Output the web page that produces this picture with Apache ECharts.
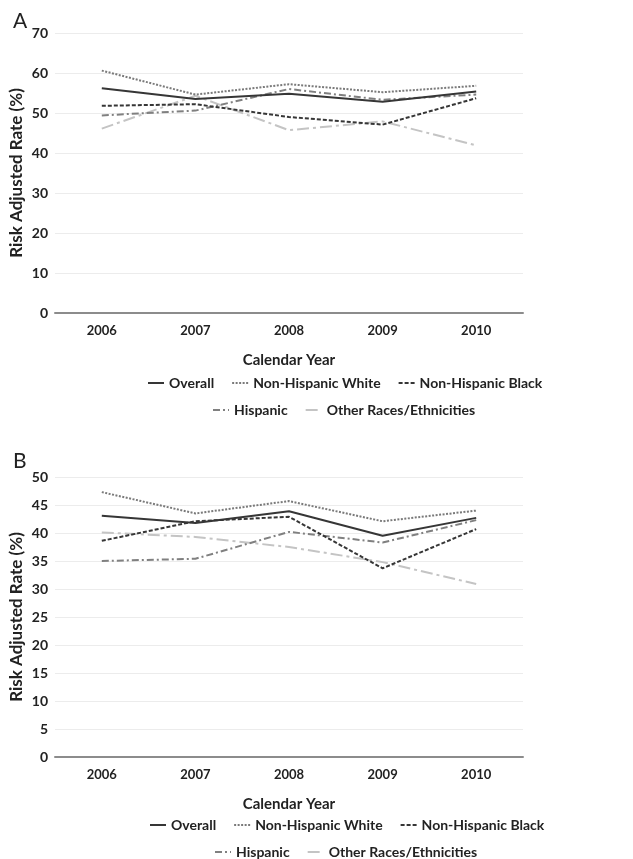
<!DOCTYPE html>
<html>
<head>
<meta charset="utf-8">
<script src="https://cdn.jsdelivr.net/npm/echarts@6/dist/echarts.min.js"></script>
<style>
  html, body { margin: 0; padding: 0; background: #fff; }
  #chart { width: 633px; height: 859px; }
</style>
</head>
<body>
<div id="chart"></div>
<script>
// years on the x axis
var years = ['2006', '2007', '2008', '2009', '2010'];
var seriesNames = ['Overall', 'Non-Hispanic White', 'Non-Hispanic Black', 'Hispanic', 'Other Races/Ethnicities'];

// panel A values (%)
var overallA = [56.2, 53.5, 54.8, 52.8, 55.4];
var whiteA = [60.6, 54.6, 57.2, 55.2, 56.8];
var blackA = [51.8, 52.2, 49.0, 47.1, 53.7];
var hispanicA = [49.4, 50.6, 56.0, 53.3, 54.6];
var otherA = [46.1, 54.3, 45.7, 47.9, 41.9];

// panel B values (%)
var overallB = [43.1, 41.8, 43.9, 39.5, 42.7];
var whiteB = [47.3, 43.5, 45.7, 42.1, 44.0];
var blackB = [38.6, 42.1, 42.9, 33.7, 40.7];
var hispanicB = [35.0, 35.4, 40.2, 38.3, 42.3];
var otherB = [40.1, 39.3, 37.5, 34.8, 30.9];

var FONT = 'Lato';

// line look for each group, same order as seriesNames
var styles = [
    { color: '#363636', type: 'solid' },
    { color: '#7a7a7a', type: [2, 1.5] },
    { color: '#363636', type: [4, 2] },
    { color: '#808080', type: [7, 3, 2, 3] },
    { color: '#c4c4c4', type: [12, 4, 3, 4] }
];

function mkSeries(name, data, idx, i) {
    return {
        name: name,
        type: 'line',
        xAxisIndex: idx,
        yAxisIndex: idx,
        data: data,
        symbol: 'none',
        z: 10 - i,
        lineStyle: { color: styles[i].color, width: 2, type: styles[i].type },
        itemStyle: { color: styles[i].color }
    };
}

function mkX(idx) {
    return {
        type: 'category',
        gridIndex: idx,
        data: years,
        boundaryGap: true,
        axisTick: { show: false },
        axisLine: { lineStyle: { color: '#8c8c8c', width: 2 } },
        axisLabel: { fontFamily: FONT, fontWeight: 'bold', fontSize: 13, color: '#222', margin: 11 },
        name: 'Calendar Year',
        nameLocation: 'middle',
        nameGap: 40,
        nameMoveOverlap: false,
        nameTextStyle: { fontFamily: FONT, fontWeight: 'bold', fontSize: 15, color: '#222' }
    };
}

function mkY(idx, max, step) {
    return {
        type: 'value',
        gridIndex: idx,
        min: 0,
        max: max,
        interval: step,
        axisLine: { show: false },
        axisTick: { show: false },
        splitLine: { lineStyle: { color: '#ececec', width: 1 } },
        axisLabel: { fontFamily: FONT, fontWeight: 'bold', fontSize: 14, color: '#222', margin: 7 },
        name: 'Risk Adjusted Rate (%)',
        nameLocation: 'middle',
        nameGap: 30,
        nameMoveOverlap: false,
        nameTextStyle: { fontFamily: FONT, fontWeight: 'bold', fontSize: 17, color: '#222' }
    };
}

function mkLegend(names, left, top) {
    return {
        data: names,
        left: left,
        top: top,
        itemWidth: 16,
        itemHeight: 10,
        itemGap: 17,
        itemStyle: { opacity: 0 },
        textStyle: { fontFamily: FONT, fontWeight: 'bold', fontSize: 14, color: '#222' }
    };
}

var chart = echarts.init(document.getElementById('chart'));
var option = {
    backgroundColor: '#fff',
    animation: false,
    title: [
        { text: 'A', left: 8, top: 6, textStyle: { fontFamily: FONT, fontWeight: 'normal', fontSize: 21, color: '#222' } },
        { text: 'B', left: 8, top: 446, textStyle: { fontFamily: FONT, fontWeight: 'normal', fontSize: 21, color: '#222' } }
    ],
    grid: [
        { left: 55, right: 110, top: 33, height: 280, outerBoundsMode: 'none' },
        { left: 55, right: 110, top: 477, height: 280, outerBoundsMode: 'none' }
    ],
    xAxis: [mkX(0), mkX(1)],
    yAxis: [mkY(0, 70, 10), mkY(1, 50, 5)],
    legend: [
        mkLegend(seriesNames.slice(0, 3), 142, 371),
        mkLegend(seriesNames.slice(3), 207, 398),
        mkLegend(seriesNames.slice(0, 3), 144, 813),
        mkLegend(seriesNames.slice(3), 209, 840)
    ],
    series: [
        mkSeries(seriesNames[0], overallA, 0, 0),
        mkSeries(seriesNames[1], whiteA, 0, 1),
        mkSeries(seriesNames[2], blackA, 0, 2),
        mkSeries(seriesNames[3], hispanicA, 0, 3),
        mkSeries(seriesNames[4], otherA, 0, 4),
        mkSeries(seriesNames[0], overallB, 1, 0),
        mkSeries(seriesNames[1], whiteB, 1, 1),
        mkSeries(seriesNames[2], blackB, 1, 2),
        mkSeries(seriesNames[3], hispanicB, 1, 3),
        mkSeries(seriesNames[4], otherB, 1, 4)
    ]
};
chart.setOption(option);
</script>
</body>
</html>
